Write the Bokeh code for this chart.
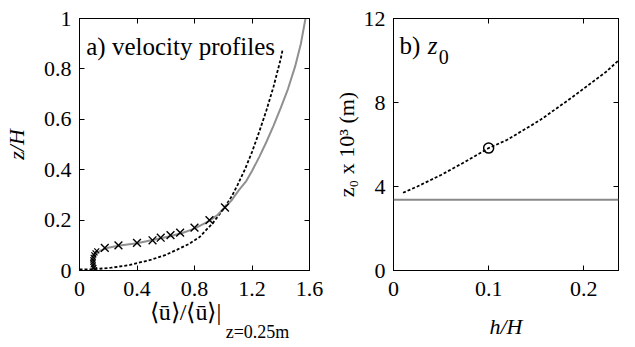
from bokeh.plotting import figure
from bokeh.layouts import row
from bokeh.models import Label, Span, LinearAxis, Range1d, FixedTicker
from bokeh.embed import file_html
from bokeh.resources import INLINE

FONT = "Liberation Serif, Times New Roman, serif"
NB = "\u00a0"

# ---------------- panel a) velocity profiles ----------------
# measured points (crosses), upper set
meas_u = [0.176, 0.271, 0.40, 0.508, 0.565, 0.633, 0.70, 0.80, 0.904, 1.012]
meas_z = [0.09, 0.10, 0.11, 0.12, 0.13, 0.14, 0.15, 0.17, 0.20, 0.25]
# measured points (crosses) inside the canopy
canopy_u = [0.105, 0.100, 0.095, 0.093, 0.093, 0.095, 0.100, 0.108, 0.120]
canopy_z = [0.003, 0.012, 0.022, 0.032, 0.042, 0.052, 0.062, 0.070, 0.078]
# gray solid profile
model_u = [0.106, 0.103, 0.103, 0.108, 0.125, 0.15, 0.19, 0.28, 0.40, 0.50, 0.63,
           0.72, 0.80, 0.90, 0.96, 1.01, 1.06, 1.11, 1.16, 1.20, 1.25, 1.30, 1.35,
           1.40, 1.45, 1.50, 1.54, 1.572]
model_z = [0.0, 0.02, 0.04, 0.058, 0.072, 0.08, 0.089, 0.099, 0.108, 0.12, 0.136,
           0.15, 0.166, 0.196, 0.22, 0.25, 0.28, 0.32, 0.355, 0.395, 0.45, 0.51, 0.575,
           0.645, 0.72, 0.81, 0.90, 1.0]
# black dashed log profile
log_u = [0.0, 0.10, 0.22, 0.35, 0.50, 0.60, 0.68, 0.76, 0.836, 0.88, 0.927, 0.97,
         1.01, 1.06, 1.10, 1.15, 1.20, 1.25, 1.30, 1.35, 1.40, 1.412]
log_z = [0.004, 0.005, 0.011, 0.022, 0.043, 0.062, 0.083, 0.105, 0.133, 0.16, 0.188,
         0.22, 0.25, 0.295, 0.34, 0.40, 0.47, 0.55, 0.635, 0.73, 0.84, 0.874]

a_xticks = [0, 0.4, 0.8, 1.2, 1.6]
a_xlabels = ["0", "0.4", "0.8", "1.2", "1.6"]
a_yticks = [0, 0.2, 0.4, 0.6, 0.8, 1.0]
a_ylabels = ["0", "0.2", "0.4", "0.6", "0.8", "1"]

# ---------------- panel b) z0 ----------------
hH = [0.01, 0.025, 0.05, 0.075, 0.10, 0.119, 0.154, 0.1885, 0.2232, 0.246]
z0 = [3.70, 4.00, 4.55, 5.17, 5.83, 6.21, 7.16, 8.27, 9.45, 10.40]
point_h = [0.10]
point_z0 = [5.83]
z0_flat = 3.37

b_xticks = [0, 0.1, 0.2]
b_xlabels = ["0", "0.1", "0.2"]
b_yticks = [0, 4, 8, 12]
b_ylabels = ["0", "4", "8", "12"]

TICK_SIZE = "22px"
FIG_H = 344
TOP = 18
BOTTOM = 73


def style_axis(ax, ticks, labels):
    ax.ticker = FixedTicker(ticks=ticks)
    ax.major_label_overrides = {t: l for t, l in zip(ticks, labels)}
    ax.major_tick_in = 5
    ax.major_tick_out = 0
    ax.minor_tick_line_color = None
    ax.axis_line_color = "black"
    ax.major_tick_line_color = "black"
    ax.major_label_text_font = FONT
    ax.major_label_text_font_size = TICK_SIZE
    ax.major_label_text_color = "black"
    ax.axis_label_text_font = FONT
    ax.axis_label_text_font_size = "22px"
    ax.axis_label_text_color = "black"
    ax.axis_label_text_font_style = "normal"


def make_fig(width, xr, yr, left, right, xt, xl, yt, yl):
    p = figure(width=width, height=FIG_H, x_range=Range1d(*xr), y_range=Range1d(*yr),
               output_backend="svg", toolbar_location=None,
               min_border_left=left, min_border_right=right, min_border_top=TOP,
               min_border_bottom=BOTTOM)
    p.xgrid.visible = False
    p.ygrid.visible = False
    p.outline_line_color = "black"
    p.background_fill_color = "white"
    p.border_fill_color = "white"
    bottom = p.below[0]
    leftax = p.left[0]
    style_axis(bottom, xt, xl)
    style_axis(leftax, yt, yl)
    bottom.major_label_standoff = 11
    leftax.major_label_standoff = 8
    for loc, ticks in (("right", yt), ("above", xt)):
        ax = LinearAxis(ticker=FixedTicker(ticks=ticks), major_tick_in=5,
                        major_tick_out=0, minor_tick_line_color=None,
                        major_label_text_font_size="1px", major_label_standoff=0,
                        major_label_text_color=None,
                        axis_line_color="black", major_tick_line_color="black")
        p.add_layout(ax, loc)
    return p, bottom, leftax


# ---------- figure a ----------
pa, pa_x, pa_y = make_fig(330, (0, 1.6), (0, 1), 72, 21,
                          a_xticks, a_xlabels, a_yticks, a_ylabels)
pa_y.axis_label = "z/H"
pa_y.axis_label_text_font_style = "italic"
pa_y.axis_label_standoff = 12

# main part of the x label (shifted left a little with trailing no-break spaces)
pa_x.axis_label = "⟨ū⟩/⟨ū⟩|" + NB * 3
pa_x.axis_label_text_font_size = "24px"
pa_x.axis_label_standoff = 0

# subscript part of the x label on a bare second bottom axis
sub_axis = LinearAxis(ticker=FixedTicker(ticks=[]), major_tick_in=0, major_tick_out=0,
                      minor_tick_line_color=None, major_label_text_font_size="1px",
                      major_label_standoff=0, major_label_text_color=None,
                      axis_line_color=None, major_tick_line_color=None,
                      axis_label=NB * 28 + "z=0.25m", axis_label_standoff=-6,
                      axis_label_text_font=FONT, axis_label_text_font_size="18px",
                      axis_label_text_font_style="normal",
                      axis_label_text_color="black")
pa.add_layout(sub_axis, "below")

pa.line(log_u, log_z, line_color="black", line_width=1.8, line_dash="3 2")
pa.line(model_u, model_z, line_color="#909090", line_width=2)
pa.scatter(meas_u, meas_z, marker="x", size=11, line_color="black", line_width=1.4)
pa.scatter(canopy_u, canopy_z, marker="x", size=7, line_color="black", line_width=1.2)

pa.add_layout(Label(x=0.047, y=0.889, text="a) velocity profiles", text_font=FONT,
                    text_font_size="25px", text_color="black",
                    text_baseline="alphabetic"))

# ---------- figure b ----------
pb, pb_x, pb_y = make_fig(289, (0, 0.2365), (0, 12), 61, 1,
                          b_xticks, b_xlabels, b_yticks, b_ylabels)
pb_x.axis_label = "h/H"
pb_x.axis_label_text_font_style = "italic"
pb_x.axis_label_standoff = 15
pb_y.axis_label = "z₀ x 10³ (m)"
pb_y.axis_label_standoff = 2

pb.add_layout(Span(location=z0_flat, dimension="width", line_color="#888888",
                   line_width=2))
pb.line(hH, z0, line_color="black", line_width=1.8, line_dash="3 2")
pb.scatter(point_h, point_z0, marker="circle", size=10, fill_color=None,
           line_color="black", line_width=1.5)

pb.add_layout(Label(x=0.00625, y=10.72, text="b)", text_font=FONT,
                    text_font_size="25px", text_color="black",
                    text_baseline="alphabetic"))
pb.add_layout(Label(x=0.036, y=10.72, text="z", text_font=FONT,
                    text_font_style="italic",
                    text_font_size="25px", text_color="black",
                    text_baseline="alphabetic"))
pb.add_layout(Label(x=0.0475, y=10.15, text="0", text_font=FONT,
                    text_font_size="20px", text_color="black",
                    text_baseline="alphabetic"))

layout = row(pa, pb)
open("out.html", "w").write(file_html(layout, INLINE))
